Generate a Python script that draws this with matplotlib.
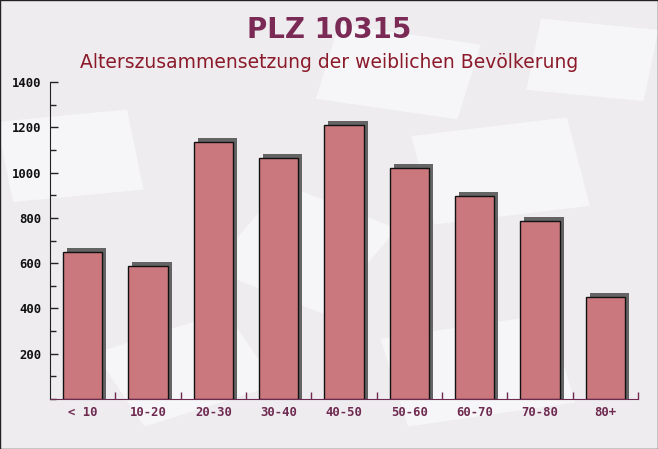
import matplotlib
matplotlib.use("Agg")
import matplotlib.pyplot as plt
from matplotlib.patches import Rectangle
from matplotlib.transforms import offset_copy
from matplotlib.ticker import MultipleLocator

categories = ["< 10", "10-20", "20-30", "30-40", "40-50", "50-60", "60-70", "70-80", "80+"]
values = [649, 587, 1135, 1066, 1212, 1019, 897, 786, 449]

title = "PLZ 10315"
subtitle = "Alterszusammensetzung der weiblichen Bevölkerung"

W, H = 658, 449
fig = plt.figure(figsize=(W / 100, H / 100), dpi=100)
fig.patch.set_facecolor("#eeecef")

# faint envelope-like shapes in the background
envelopes = [
    (0.02, 0.55, 0.20, 0.18, 8),
    (0.48, 0.78, 0.22, 0.17, -12),
    (0.66, 0.50, 0.24, 0.20, 10),
    (0.22, 0.05, 0.22, 0.18, 25),
    (0.62, 0.05, 0.26, 0.20, 12),
    (0.80, 0.80, 0.18, 0.16, -8),
    (0.32, 0.40, 0.20, 0.22, -30),
]
for ex, ey, ew, eh, ang in envelopes:
    fig.patches.append(Rectangle((ex, ey), ew, eh, angle=ang, transform=fig.transFigure,
                                 facecolor="white", edgecolor="none", alpha=0.5, zorder=-5))

# border round the whole picture
fig.patches.append(Rectangle((0, 0), 1, 1, transform=fig.transFigure, fill=False,
                             edgecolor="#222222", linewidth=1.0, zorder=10))

ax = fig.add_axes([50 / W, (H - 399) / H, (638 - 50) / W, (399 - 82) / H])
ax.set_facecolor("none")
ax.set_zorder(1)

x = list(range(len(categories)))

# shadow bars, shifted a few pixels right and up
shadow_tr = offset_copy(ax.transData, fig=fig, x=4, y=4, units="dots")
shadows = ax.bar(x, [v + 18 for v in values], bottom=-18, width=0.6,
                 color="#555555", alpha=0.9, zorder=2)
for p in shadows:
    p.set_transform(shadow_tr)

ax.bar(x, values, width=0.6, color="#cb777e", edgecolor="#111111",
       linewidth=1.0, zorder=3)

ax.set_xlim(-0.5, len(categories) - 0.5)
ax.set_ylim(0, 1400)

ax.spines["top"].set_visible(False)
ax.spines["right"].set_visible(False)
ax.spines["left"].set_color("#222222")
ax.spines["bottom"].set_color("#6e2a50")

ax.yaxis.set_major_locator(MultipleLocator(200))
ax.yaxis.set_minor_locator(MultipleLocator(100))
ax.set_yticks(range(200, 1401, 200))
ax.tick_params(axis="y", which="major", direction="in", length=6, width=1, color="#222222", pad=6)
ax.tick_params(axis="y", which="minor", direction="in", length=4, width=1, color="#222222")

ax.set_xticks([i + 0.5 for i in x])
ax.set_xticks(x, minor=True)
ax.set_xticklabels([])
ax.set_xticklabels(categories, minor=True)
ax.tick_params(axis="x", which="major", direction="in", length=5, width=1, color="#6e2a50")
ax.tick_params(axis="x", which="minor", length=0, pad=5)

for lab in ax.get_yticklabels():
    lab.set_fontfamily("DejaVu Sans Mono")
    lab.set_fontweight("bold")
    lab.set_fontsize(8.8)
    lab.set_color("#111111")
for lab in ax.get_xticklabels(minor=True):
    lab.set_fontfamily("DejaVu Sans Mono")
    lab.set_fontweight("bold")
    lab.set_fontsize(8.8)
    lab.set_color("#6e2a50")

fig.text(0.5, 1 - 30 / H, title, ha="center", va="center", fontsize=20,
         fontweight="bold", color="#7a2a55")
fig.text(0.5, 1 - 62 / H, subtitle, ha="center", va="center", fontsize=13.5,
         color="#8b1a2a")

fig.savefig("out.png", dpi=100, facecolor=fig.get_facecolor())
